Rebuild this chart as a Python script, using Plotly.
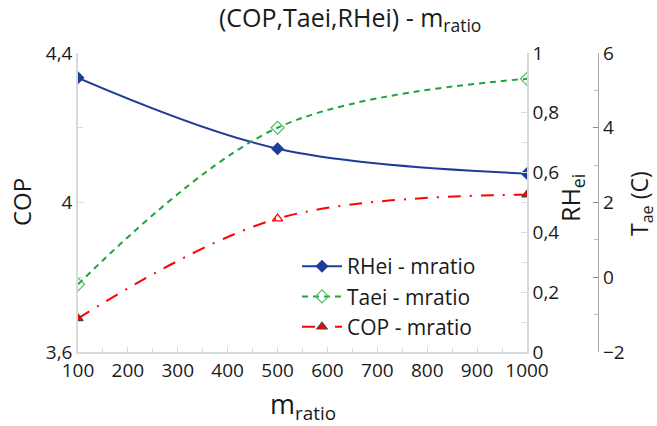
import plotly.graph_objects as go

m_ratio = [100, 500, 1000]
rhei = [0.917, 0.680, 0.597]
taei = [-0.19, 4.0, 5.31]
cop = [3.69, 3.957, 4.021]

x_ticks = [100, 200, 300, 400, 500, 600, 700, 800, 900, 1000]

W, H = 657, 426
L, R, T, B = 78, 40, 53, 74
pw = W - L - R
ph = H - T - B


def px(xp):
    return (xp - L) / pw


def py(yp):
    return (H - B - yp) / ph


FONT = "Open Sans"
AX = "#D9D9D9"
TXT = "#1a1a1a"

fig = go.Figure()
fig.add_trace(go.Scatter(
    x=m_ratio, y=rhei, name="RHei - mratio", yaxis="y2", mode="lines+markers",
    line=dict(color="#1F3C99", width=2, shape="spline"),
    marker=dict(symbol="diamond", size=10, color="#1F3C99")))
fig.add_trace(go.Scatter(
    x=m_ratio, y=taei, name="Taei - mratio", yaxis="y3", mode="lines+markers",
    line=dict(color="#1FA33C", width=2, shape="spline", dash="6px,5px"),
    marker=dict(symbol="diamond-open", size=10, color="#4CC060", line=dict(width=1.2))))
fig.add_trace(go.Scatter(
    x=m_ratio, y=cop, name="COP - mratio", yaxis="y", mode="lines+markers",
    line=dict(color="#FF0000", width=2, shape="spline", dash="13px,9px,2px,9px"),
    marker=dict(symbol=["triangle-up", "triangle-up-open", "triangle-up"], size=9,
                color="#FF0000", line=dict(width=1.2))))

tickfont = dict(family=FONT, size=19, color=TXT)
fig.update_layout(
    width=W, height=H,
    margin=dict(l=L, r=R, t=T, b=B, autoexpand=False),
    paper_bgcolor="white", plot_bgcolor="white",
    separators=",.",
    font=dict(family=FONT, color=TXT),
    showlegend=True,
    legend=dict(x=px(297), y=py(246), xanchor="left", yanchor="top",
                font=dict(family=FONT, size=21, color=TXT),
                bgcolor="rgba(0,0,0,0)", itemwidth=40, tracegroupgap=0),
    xaxis=dict(domain=[0, px(527)], range=[100, 1000], tickvals=x_ticks,
               tickformat="d", ticks="inside", ticklen=5, tickcolor=AX, automargin=False,
               minor=dict(dtick=50, tick0=100, ticks="inside", ticklen=4, tickcolor=AX),
               showline=True, linecolor=AX, linewidth=1.5, showgrid=False, zeroline=False,
               tickfont=tickfont),
    yaxis=dict(range=[3.6, 4.4], tickvals=[3.6, 4.0, 4.4], ticks="inside", ticklen=6,
               tickcolor=AX, automargin=False,
               minor=dict(tickvals=[3.8, 4.2], ticks="inside", ticklen=5, tickcolor=AX),
               showline=True, linecolor=AX, linewidth=1.5, showgrid=False, zeroline=False,
               tickfont=tickfont),
    yaxis2=dict(overlaying="y", side="right", anchor="x", range=[0, 1], automargin=False,
                tickvals=[0, 0.2, 0.4, 0.6, 0.8, 1], ticks="inside", ticklen=6, tickcolor=AX,
                minor=dict(dtick=0.1, ticks="inside", ticklen=5, tickcolor=AX),
                showline=True, linecolor=AX, linewidth=1.5, showgrid=False, zeroline=False,
                tickfont=tickfont),
    yaxis3=dict(overlaying="y", side="right", anchor="free", position=px(598),
                range=[-2, 6], tickvals=[-2, 0, 2, 4, 6], ticks="inside", ticklen=5,
                tickcolor="#8C8C8C", automargin=False,
                minor=dict(dtick=1, ticks="inside", ticklen=4, tickcolor="#BFBFBF"),
                showline=True, linecolor="#A6A6A6", linewidth=1.2, showgrid=False,
                zeroline=False, tickfont=tickfont),
    annotations=[
        dict(text="(COP,Taei,RHei) - m<sub>ratio</sub>", x=px(350), y=py(18),
             xref="paper", yref="paper", showarrow=False, xanchor="center", yanchor="middle",
             font=dict(family=FONT, size=25, color=TXT)),
        dict(text="m<sub>ratio</sub>", x=px(303), y=py(406), xref="paper", yref="paper",
             showarrow=False, xanchor="center", yanchor="middle",
             font=dict(family=FONT, size=27, color=TXT)),
        dict(text="COP", x=px(21), y=py(202), xref="paper", yref="paper", textangle=-90,
             showarrow=False, xanchor="center", yanchor="middle",
             font=dict(family=FONT, size=24, color=TXT)),
        dict(text="RH<sub>ei</sub>", x=px(571), y=py(198), xref="paper", yref="paper",
             textangle=-90, showarrow=False, xanchor="center", yanchor="middle",
             font=dict(family=FONT, size=25, color=TXT)),
        dict(text="T<sub>ae</sub> (C)", x=px(640), y=py(204), xref="paper", yref="paper",
             textangle=-90, showarrow=False, xanchor="center", yanchor="middle",
             font=dict(family=FONT, size=23, color=TXT)),
    ],
)

fig.write_html("out.html", config={"displayModeBar": False},
               post_script="document.body.style.margin='0';document.body.style.padding='0';")
